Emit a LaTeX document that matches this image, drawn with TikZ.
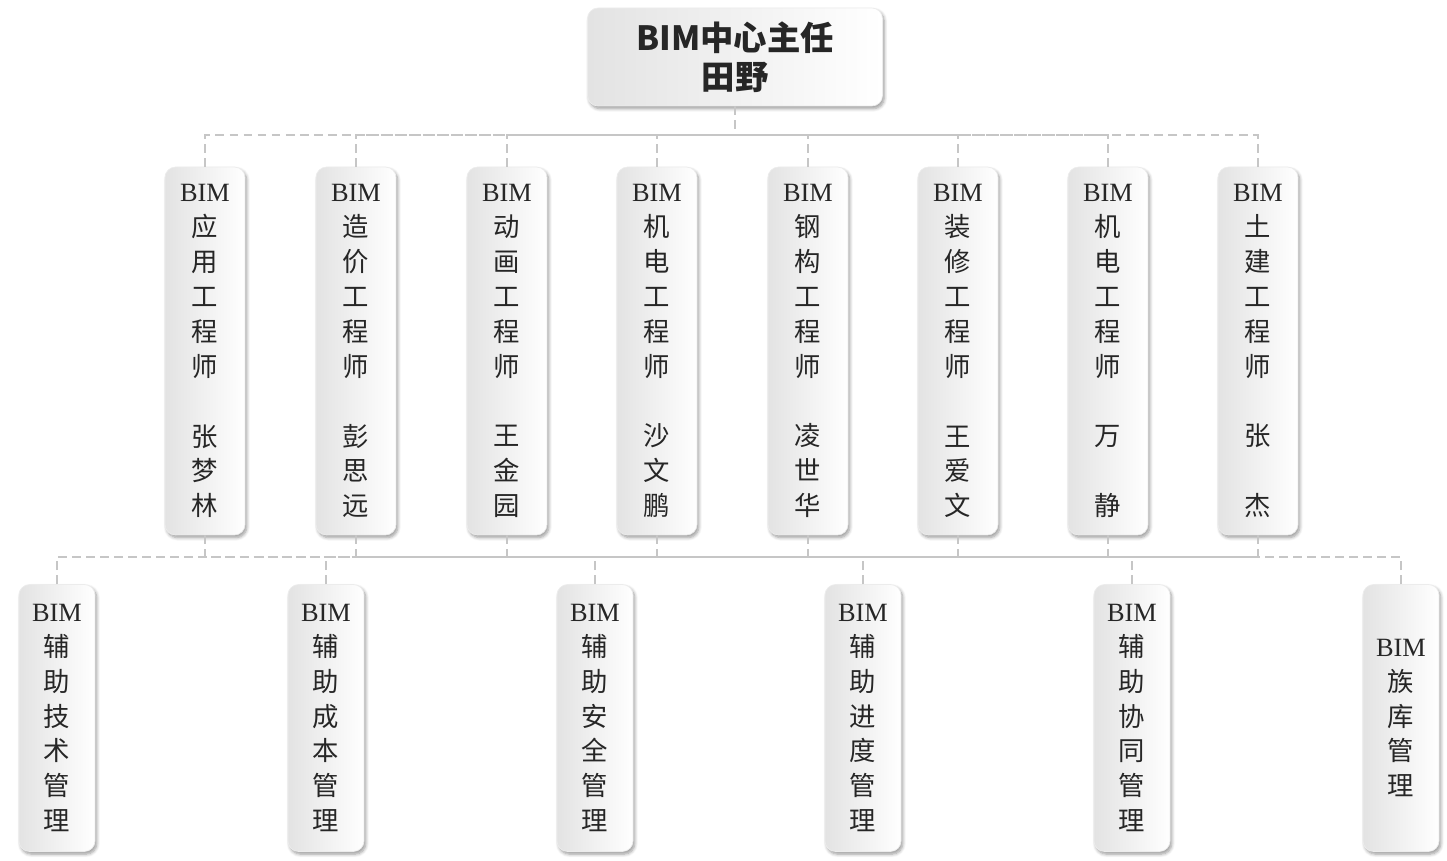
\documentclass[tikz,border=0pt]{standalone}
\usepackage{fontspec}
\setmainfont{Liberation Serif}
\newfontfamily\cjk{Noto Sans CJK SC}
\newcommand{\bimtag}{{\rmfamily BIM}}
\usetikzlibrary{positioning, shadows.blur}
\tikzset{
    link/.style={draw=gray!45, dash pattern=on 5pt off 3pt, line width=1.3pt},
}
\begin{document}
\begin{tikzpicture}[
  x=0.02cm, y=-0.02cm,
  every node/.style = {align=center, rounded corners=6pt},
  box/.style = {draw=gray!15, left color=gray!22, right color=white,
                blur shadow={shadow blur steps=6, shadow xshift=1pt, shadow yshift=-1.5pt},
                font=\cjk\fontsize{15}{19.9}\selectfont, text=black!85},
  mid/.style = {box, minimum width=1.6cm, minimum height=7.36cm},
  low/.style = {box, minimum width=1.52cm, minimum height=5.34cm} ]
  \useasboundingbox (0,0) rectangle (1447,860);
  \node [box, minimum width=5.9cm, minimum height=1.96cm,
         font=\cjk\bfseries\fontsize{19}{22}\selectfont] (head) at (735,57) {BIM中心主任\\田野};
  % engineers
  \node [mid] (e1) at (205,351) {\bimtag\\应\\用\\工\\程\\师\\ \\张\\梦\\林};
  \node [mid] (e2) at (356,351) {\bimtag\\造\\价\\工\\程\\师\\ \\彭\\思\\远};
  \node [mid] (e3) at (507,351) {\bimtag\\动\\画\\工\\程\\师\\ \\王\\金\\园};
  \node [mid] (e4) at (657,351) {\bimtag\\机\\电\\工\\程\\师\\ \\沙\\文\\鹏};
  \node [mid] (e5) at (808,351) {\bimtag\\钢\\构\\工\\程\\师\\ \\凌\\世\\华};
  \node [mid] (e6) at (958,351) {\bimtag\\装\\修\\工\\程\\师\\ \\王\\爱\\文};
  \node [mid] (e7) at (1108,351) {\bimtag\\机\\电\\工\\程\\师\\ \\万\\ \\静};
  \node [mid] (e8) at (1258,351) {\bimtag\\土\\建\\工\\程\\师\\ \\张\\ \\杰};
  % assistants
  \node [low] (a1) at (57,718) {\bimtag\\辅\\助\\技\\术\\管\\理};
  \node [low] (a2) at (326,718) {\bimtag\\辅\\助\\成\\本\\管\\理};
  \node [low] (a3) at (595,718) {\bimtag\\辅\\助\\安\\全\\管\\理};
  \node [low] (a4) at (863,718) {\bimtag\\辅\\助\\进\\度\\管\\理};
  \node [low] (a5) at (1132,718) {\bimtag\\辅\\助\\协\\同\\管\\理};
  \node [low] (a6) at (1401,718) {\bimtag\\族\\库\\管\\理};
  % connectors
  \coordinate (bus1) at (735,135);
  \coordinate (bus2) at (735,557);
  \draw [link] (head.south) -- (bus1);
  \foreach \n in {1,...,8} {
    \draw [link] (e\n.north) -- (e\n.north |- bus1) -- (bus1);
    \draw [link] (e\n.south) -- (e\n.south |- bus2) -- (bus2);
  }
  \foreach \n in {1,...,6} {
    \draw [link] (a\n.north) -- (a\n.north |- bus2) -- (bus2);
  }
\end{tikzpicture}
\end{document}
